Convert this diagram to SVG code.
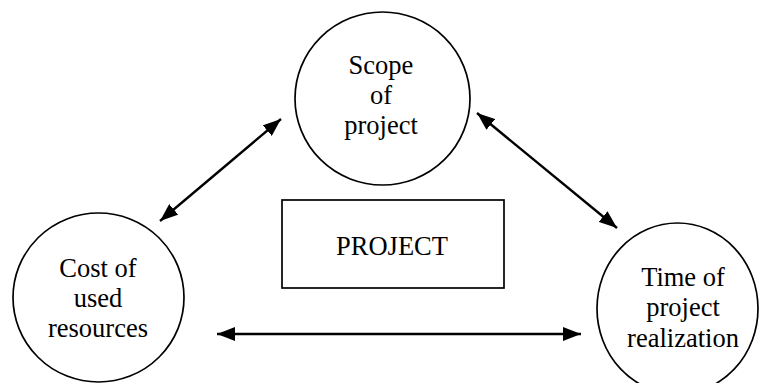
<svg xmlns="http://www.w3.org/2000/svg" width="759" height="383" viewBox="0 0 759 383">
  <style>
    .node { fill: #ffffff; stroke: #000000; stroke-width: 1.7; }
    .label { font-family: "Liberation Serif", "Times New Roman", serif; font-size: 26.5px; fill: #000000; text-anchor: middle; }
    .link { stroke: #000000; stroke-width: 2.4; fill: none; marker-start: url(#head); marker-end: url(#head); }
  </style>
  <defs>
    <marker id="head" viewBox="0 0 18 14" refX="18" refY="7" markerWidth="18" markerHeight="14" markerUnits="userSpaceOnUse" orient="auto-start-reverse">
      <path d="M0,0 L18,7 L0,14 Z" fill="#000000"/>
    </marker>
  </defs>
  <rect width="759" height="383" fill="#ffffff"/>

  <g id="scope">
    <ellipse class="node" cx="382.5" cy="98.5" rx="87.5" ry="86.5"/>
    <text class="label" x="381" y="74">Scope</text>
    <text class="label" x="381" y="104">of</text>
    <text class="label" x="381" y="134">project</text>
  </g>

  <g id="cost">
    <ellipse class="node" cx="98.5" cy="297.5" rx="85.5" ry="84.5"/>
    <text class="label" x="98" y="277">Cost of</text>
    <text class="label" x="98" y="307">used</text>
    <text class="label" x="98" y="337">resources</text>
  </g>

  <g id="time">
    <ellipse class="node" cx="677.5" cy="308.5" rx="80.5" ry="85.5"/>
    <text class="label" x="683" y="286">Time of</text>
    <text class="label" x="683" y="316">project</text>
    <text class="label" x="683" y="346.5">realization</text>
  </g>

  <g id="project">
    <rect class="node" x="282" y="200" width="222" height="88"/>
    <text class="label" x="392" y="255">PROJECT</text>
  </g>

  <g id="connectors">
    <line class="link" x1="160" y1="221" x2="281" y2="119"/>
    <line class="link" x1="477" y1="113" x2="617" y2="228"/>
    <line class="link" x1="217" y1="334" x2="581" y2="334"/>
  </g>
</svg>
